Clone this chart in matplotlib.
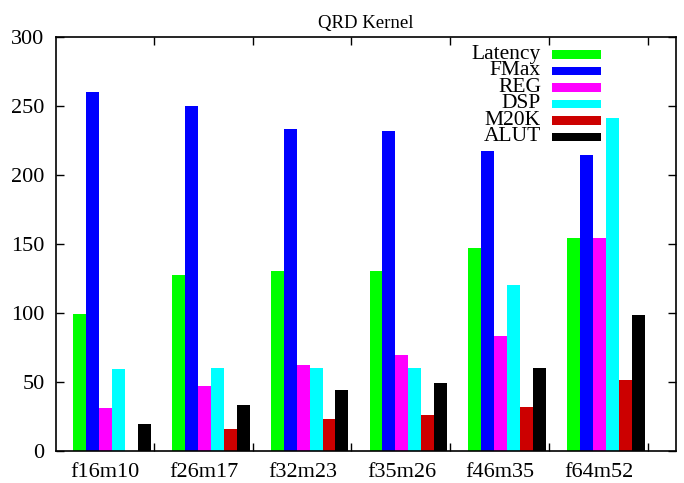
import numpy as np
import matplotlib
matplotlib.use("Agg")
import matplotlib.pyplot as plt
from matplotlib.patches import Rectangle

# ===== data =====
configs = ["f16m10", "f26m17", "f32m23", "f35m26", "f46m35", "f64m52"]
series = ["Latency", "FMax", "REG", "DSP", "M20K", "ALUT"]
latency = [99, 127, 130, 130, 147, 154]
fmax = [260, 250, 233, 232, 217, 214]
reg = [31, 47, 62, 69, 83, 154]
dsp = [59, 60, 60, 60, 120, 241]
m20k = [0, 16, 23, 26, 32, 51]
alut = [19, 33, 44, 49, 60, 98]
colors = ["#00ff00", "#0000ff", "#ff00ff", "#00ffff", "#cc0000", "#000000"]

values = [latency, fmax, reg, dsp, m20k, alut]

plt.rcParams.update({
    "font.family": ["Liberation Serif", "DejaVu Serif"],
    "font.size": 16,
})

fig = plt.figure(figsize=(6.84, 4.83), dpi=100)
ax = fig.add_axes([0.0814, 0.0669, 0.9065, 0.8571])

x = np.arange(len(configs))
w = 0.131
for j, (name, vals, c) in enumerate(zip(series, values, colors)):
    ax.bar(x + (j - 2.5) * w, vals, width=w, color=c, linewidth=0)

ax.set_xlim(-0.572, 5.709)
ax.set_ylim(0, 300)
ax.set_yticks(range(0, 301, 50))

# group labels without marks, tick marks between groups
ax.set_xticks(x - 0.07)
ax.set_xticklabels(configs)
ax.tick_params(axis="x", which="major", length=0, pad=9)
ax.set_xticks(x + 0.4235, minor=True)
ax.tick_params(axis="x", which="minor", direction="in", length=6,
               top=True, bottom=True, width=1)
ax.tick_params(axis="y", direction="in", length=6, left=True, right=True,
               width=1, pad=8)
for s in ax.spines.values():
    s.set_linewidth(1.2)

ax.set_title("QRD Kernel", fontsize=13.5, pad=6)

# key in the top-right corner, text right-aligned before each swatch
top = 0.9575
dy = 0.0399
for j, (name, c) in enumerate(zip(series, colors)):
    yc = top - j * dy
    ax.text(0.7827, yc, name, transform=ax.transAxes, ha="right",
            va="center", fontsize=15.5)
    ax.add_patch(Rectangle((0.800, yc - 0.0103), 0.0795, 0.0205,
                           transform=ax.transAxes, color=c, linewidth=0,
                           clip_on=False))

fig.savefig("out.png", dpi=100)
